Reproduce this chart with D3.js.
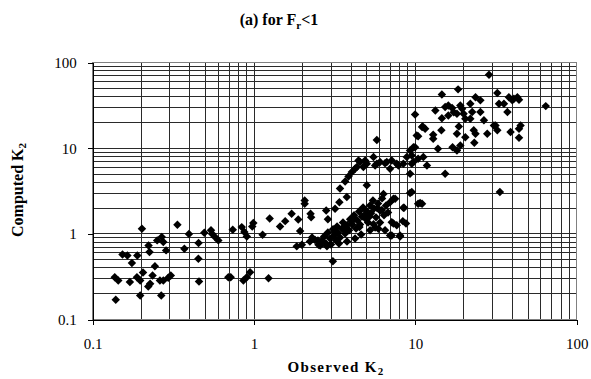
<!DOCTYPE html>
<html>
<head>
<meta charset="utf-8">
<script src="https://d3js.org/d3.v7.min.js"></script>
<style>
  body { margin: 0; background: #fff; }
  text { font-family: "Liberation Serif", "Times New Roman", serif; }
</style>
</head>
<body>
<svg id="chart"></svg>
<script>
// values (observed K2 vs computed K2)
const observedK2 = [
  0.139,0.137,0.144,0.153,0.164,0.175,0.189,0.202,0.170,0.197,0.188,0.197,0.205,0.222,0.225,0.243,0.221,0.227,0.235,0.251,
  0.268,0.274,0.285,0.261,0.274,0.294,0.305,0.266,0.335,0.370,0.395,0.453,0.452,0.456,0.492,0.541,0.551,0.573,0.601,0.693,
  0.717,0.738,0.839,0.871,0.902,0.859,0.902,0.945,0.99,0.975,
  1.13,1.25,1.23,1.45,1.56,1.71,1.88,1.93,2.06,2.06,2.24,2.26,1.84,1.98,2.22,2.39,2.51,2.57,2.80,2.87,
  3.08,3.18,3.38,3.76,3.41,3.67,3.85,4.04,4.23,4.34,4.54,4.88,4.44,5.00,5.77,5.50,5.63,6.04,6.49,7.14,
  5.00,4.76,5.77,6.97,7.85,6.34,7.31,6.97,7.49,9.27,11.0,10.7,8.43,8.36,8.75,8.04,5.90,6.97,7.14,7.31,
  7.67,8.04,7.14,8.51,9.27,9.73,10.2,9.50,9.27,9.50,10.4,33.4,
  2.64,2.72,2.79,2.87,2.96,3.00,3.09,3.13,3.22,3.27,3.31,3.41,3.51,3.56,3.67,3.77,3.88,3.94,4.06,4.17,
  4.29,4.36,4.48,4.54,4.67,4.74,4.88,4.95,5.09,5.24,5.31,5.46,5.54,5.70,5.87,6.04,6.22,6.39,6.58,6.77,
  5.24,5.63,6.04,6.49,4.61,4.23,3.77,3.36,2.83,2.49,2.29,
  4.2,4.5,5.2,5.5,3.6,3.2,4.0,6.2,5.8,4.9,
  28.6,18.4,14.6,9.96,13.3,11.1,11.5,10.4,12.9,12.9,14.6,14.5,15.3,16.0,16.9,17.3,16.0,19.0,19.5,19.9,
  20.4,18.1,18.6,18.1,20.4,19.0,17.0,18.1,21.9,23.6,25.3,22.5,21.9,23.0,23.6,23.2,25.3,26.6,27.9,30.7,
  32.2,33.0,35.4,38.0,39.9,37.2,38.9,40.8,42.9,43.9,43.9,44.9,43.9,64.3,32.2,31.4,13.8,15.3,9.96,9.50,
  9.73,10.4,11.2,11.8,6.65,7.67,8.43,11.0,8.85
];
const computedK2 = [
  0.170,0.312,0.286,0.576,0.561,0.458,0.561,1.15,0.275,0.191,0.312,0.286,0.354,0.734,0.613,0.42,0.243,0.261,0.327,0.840,
  0.918,0.802,0.642,0.286,0.286,0.307,0.327,0.191,1.28,0.672,1.00,0.781,0.513,0.278,1.03,1.10,1.00,0.918,0.840,0.312,
  0.312,1.12,1.20,1.05,0.935,0.286,0.312,0.357,1.34,1.22,
  0.979,1.51,0.304,1.22,1.41,1.72,1.47,1.08,2.46,2.25,1.72,1.56,0.715,0.748,0.817,0.85,0.748,0.734,1.88,1.48,
  0.48,1.97,2.35,2.7,3.4,4.10,4.69,5.27,5.77,6.03,6.90,7.22,7.22,3.69,12.5,7.89,6.31,6.90,6.71,7.22,
  6.61,6.03,6.61,5.77,6.31,2.93,2.58,2.35,2.58,3.00,2.25,2.29,2.02,1.41,1.32,0.960,1.15,0.960,1.37,1.32,
  1.26,0.935,0.96,2.02,9.45,10.3,14.1,6.61,5.05,3.08,2.25,3.08,
  0.84,0.935,0.774,1.04,0.886,0.754,1.13,0.96,0.84,1.22,1.04,0.91,1.16,1.36,1.01,1.26,1.10,1.48,1.29,1.65,
  1.16,1.44,1.83,1.29,1.60,2.04,1.52,1.88,1.36,2.15,1.74,2.46,1.98,1.56,2.27,1.88,2.60,1.65,2.15,1.78,
  1.10,1.19,1.36,1.10,0.987,0.886,0.817,0.774,0.715,0.84,0.91,
  1.5,1.2,1.6,1.3,1.15,1.05,1.4,1.9,2.0,1.7,
  72.4,48.8,42.6,24.9,27.7,18.0,16.9,13.8,14.4,12.9,22.5,16.2,30.3,31.7,29.5,26.3,24.2,31.7,29.0,25.4,
  22.2,25.4,18.0,14.8,13.5,10.8,10.3,9.45,33.2,39.6,36.3,26.5,22.2,16.2,14.8,11.6,26.5,21.2,14.8,18.5,
  44.2,33.2,33.2,39.6,36.3,26.5,15.5,37.9,39.6,36.9,16.9,18.5,13.3,31.1,16.2,18.5,9.9,5.05,10.3,8.26,
  6.90,7.56,7.89,6.31,6.90,6.61,6.61,17.7,7.89
];
const majorTicks = [0.1, 1, 10, 100];
const tickLabels = ["0.1", "1", "10", "100"];

const W = 591, H = 379;
const mLeft = 92.7, mRight = 576.7, mTop = 62.7, mBottom = 319.5;

const svg = d3.select("#chart").attr("width", W).attr("height", H);

const x = d3.scaleLog().domain([0.1, 100]).range([mLeft, mRight]);
const y = d3.scaleLog().domain([0.1, 100]).range([mBottom, mTop]);

// grid lines at 1..9 of every decade
const gridVals = [];
[0.1, 1, 10].forEach(d => { for (let k = 1; k <= 9; k++) gridVals.push(d * k); });
gridVals.push(100);

const grid = svg.append("g").attr("shape-rendering", "crispEdges");
grid.selectAll(".vg").data(gridVals).enter().append("line")
   .attr("x1", d => x(d)).attr("x2", d => x(d))
   .attr("y1", mTop).attr("y2", mBottom)
   .attr("stroke", "#2a2a2a").attr("stroke-width", 1);
grid.selectAll(".hg").data(gridVals).enter().append("line")
   .attr("y1", d => y(d)).attr("y2", d => y(d))
   .attr("x1", mLeft).attr("x2", mRight)
   .attr("stroke", "#2a2a2a").attr("stroke-width", 1);

// plot border
svg.append("rect")
   .attr("x", mLeft).attr("y", mTop)
   .attr("width", mRight - mLeft).attr("height", mBottom - mTop)
   .attr("fill", "none").attr("stroke", "#808080")
   .attr("shape-rendering", "crispEdges");

// axes
const xAxis = svg.append("g")
   .attr("transform", `translate(0,${mBottom})`)
   .call(d3.axisBottom(x).tickValues(majorTicks).tickFormat((d, i) => tickLabels[i]).tickSize(5).tickPadding(14));
const yAxis = svg.append("g")
   .attr("transform", `translate(${mLeft},0)`)
   .call(d3.axisLeft(y).tickValues(majorTicks).tickFormat((d, i) => tickLabels[i]).tickSize(5).tickPadding(11));

[xAxis, yAxis].forEach(g => {
  g.attr("shape-rendering", "crispEdges");
  g.select(".domain").attr("stroke", "#000");
  g.selectAll(".tick line").attr("stroke", "#000");
  g.selectAll("text")
   .attr("font-family", "Liberation Serif")
   .attr("font-size", "15px")
   .attr("fill", "#000");
});

// points
const diamond = d3.symbol().type(d3.symbolSquare).size(36);
svg.append("g").selectAll("path")
   .data(observedK2.map((v, i) => [v, computedK2[i]]))
   .enter().append("path")
   .attr("d", diamond)
   .attr("transform", d => `translate(${x(d[0])},${y(d[1])}) rotate(45)`)
   .attr("fill", "#000");

// title
const title = svg.append("text")
   .attr("x", 279).attr("y", 25)
   .attr("text-anchor", "middle")
   .attr("font-size", "16px")
   .attr("font-weight", "bold");
title.append("tspan").text("(a) for F");
title.append("tspan").attr("dy", 4).attr("font-size", "11px").text("r");
title.append("tspan").attr("dy", -4).text("<1");

// x title
const xt = svg.append("text")
   .attr("x", 336).attr("y", 372)
   .attr("text-anchor", "middle")
   .attr("font-size", "15px")
   .attr("font-weight", "bold")
   .attr("letter-spacing", "1.3px");
xt.append("tspan").text("Observed K");
xt.append("tspan").attr("dy", 3).attr("font-size", "11px").text("2");

// y title
const yt = svg.append("text")
   .attr("transform", "translate(23,190) rotate(-90)")
   .attr("text-anchor", "middle")
   .attr("font-size", "16px")
   .attr("font-weight", "bold");
yt.append("tspan").text("Computed K");
yt.append("tspan").attr("dy", 3).attr("font-size", "11px").text("2");
</script>
</body>
</html>
